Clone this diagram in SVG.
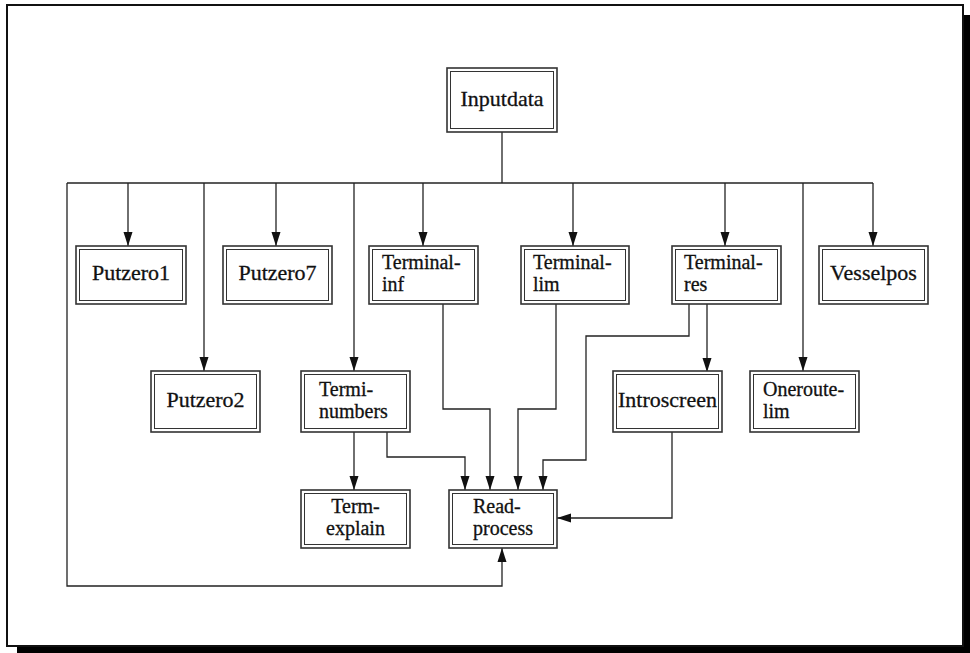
<svg xmlns="http://www.w3.org/2000/svg" width="970" height="653" viewBox="0 0 970 653">
  <defs>
    <marker id="arrow" viewBox="0 0 14 16" refX="14" refY="8" markerWidth="14" markerHeight="16" markerUnits="userSpaceOnUse" orient="auto">
      <path d="M0,3.5 L14,8 L0,12.5 Z" fill="#111"/>
    </marker>
    <style>
      .frame { fill: #fff; stroke: #111; stroke-width: 2; }
      .shadow { fill: #000; }
      .outer { fill: #fff; stroke: #333; stroke-width: 1.6; }
      .inner { fill: none; stroke: #333; stroke-width: 1; }
      .label { font-family: "Liberation Serif", "Times New Roman", serif; font-size: 22px; fill: #111; stroke: #111; stroke-width: 0.3; }
      .two { font-size: 20px; }
      .mid { text-anchor: middle; }
      .wire { fill: none; stroke: #222; stroke-width: 1.3; }
      .arr { marker-end: url(#arrow); }
    </style>
  </defs>

  <!-- page with drop shadow -->
  <rect x="0" y="0" width="970" height="653" fill="#fff"/>
  <rect class="shadow" x="17" y="15" width="953" height="638"/>
  <rect class="frame" x="7" y="5" width="956" height="641"/>

  <!-- connectors -->
  <g id="connectors">
    <path class="wire" d="M502,132 V183"/>
    <path class="wire" d="M67,183 H873"/>
    <path class="wire arr" d="M128,183 V246"/>
    <path class="wire arr" d="M204,183 V371"/>
    <path class="wire arr" d="M276,183 V246"/>
    <path class="wire arr" d="M354,183 V371"/>
    <path class="wire arr" d="M423,183 V246"/>
    <path class="wire arr" d="M573,183 V246"/>
    <path class="wire arr" d="M725,183 V246"/>
    <path class="wire arr" d="M803,183 V371"/>
    <path class="wire arr" d="M873,183 V246"/>
    <path class="wire arr" d="M67,183 V586 H502 V548"/>
    <path class="wire arr" d="M354,432 V490"/>
    <path class="wire arr" d="M387,432 V457 H465 V490"/>
    <path class="wire arr" d="M443,304 V409 H490 V490"/>
    <path class="wire arr" d="M556,304 V409 H518 V490"/>
    <path class="wire arr" d="M689,304 V336 H586 V460 H543 V490"/>
    <path class="wire arr" d="M707,304 V372"/>
    <path class="wire arr" d="M672,432 V518 H557"/>
  </g>

  <!-- nodes -->
  <g id="inputdata">
    <rect class="outer" x="447" y="68" width="110" height="64"/>
    <rect class="inner" x="450.5" y="71.5" width="103" height="57"/>
    <text class="label mid" x="502" y="106">Inputdata</text>
  </g>

  <g id="putzero1">
    <rect class="outer" x="76" y="246" width="110" height="58"/>
    <rect class="inner" x="79.5" y="249.5" width="103" height="51"/>
    <text class="label mid" x="131" y="280">Putzero1</text>
  </g>

  <g id="putzero7">
    <rect class="outer" x="223" y="246" width="109" height="58"/>
    <rect class="inner" x="226.5" y="249.5" width="102" height="51"/>
    <text class="label mid" x="277.5" y="280">Putzero7</text>
  </g>

  <g id="terminal-inf">
    <rect class="outer" x="369" y="246" width="109" height="58"/>
    <rect class="inner" x="372.5" y="249.5" width="102" height="51"/>
    <text class="label two" x="382" y="269">Terminal-<tspan x="382" dy="22">inf</tspan></text>
  </g>

  <g id="terminal-lim">
    <rect class="outer" x="521" y="246" width="108" height="58"/>
    <rect class="inner" x="524.5" y="249.5" width="101" height="51"/>
    <text class="label two" x="533" y="269">Terminal-<tspan x="533" dy="22">lim</tspan></text>
  </g>

  <g id="terminal-res">
    <rect class="outer" x="672" y="246" width="109" height="58"/>
    <rect class="inner" x="675.5" y="249.5" width="102" height="51"/>
    <text class="label two" x="684" y="269">Terminal-<tspan x="684" dy="22">res</tspan></text>
  </g>

  <g id="vesselpos">
    <rect class="outer" x="819" y="246" width="109" height="58"/>
    <rect class="inner" x="822.5" y="249.5" width="102" height="51"/>
    <text class="label mid" x="873.5" y="280">Vesselpos</text>
  </g>

  <g id="putzero2">
    <rect class="outer" x="151" y="371" width="109" height="61"/>
    <rect class="inner" x="154.5" y="374.5" width="102" height="54"/>
    <text class="label mid" x="205.5" y="407">Putzero2</text>
  </g>

  <g id="termi-numbers">
    <rect class="outer" x="301" y="371" width="109" height="61"/>
    <rect class="inner" x="304.5" y="374.5" width="102" height="54"/>
    <text class="label two" x="319" y="396">Termi-<tspan x="319" dy="22">numbers</tspan></text>
  </g>

  <g id="introscreen">
    <rect class="outer" x="613" y="371" width="109" height="61"/>
    <rect class="inner" x="616.5" y="374.5" width="102" height="54"/>
    <text class="label mid" x="667.5" y="407">Introscreen</text>
  </g>

  <g id="oneroute-lim">
    <rect class="outer" x="750" y="371" width="109" height="61"/>
    <rect class="inner" x="753.5" y="374.5" width="102" height="54"/>
    <text class="label two" x="763" y="396">Oneroute-<tspan x="763" dy="22">lim</tspan></text>
  </g>

  <g id="term-explain">
    <rect class="outer" x="301" y="490" width="109" height="58"/>
    <rect class="inner" x="304.5" y="493.5" width="102" height="51"/>
    <text class="label two mid" x="355.5" y="513">Term-<tspan x="355.5" dy="22">explain</tspan></text>
  </g>

  <g id="read-process">
    <rect class="outer" x="449" y="490" width="108" height="58"/>
    <rect class="inner" x="452.5" y="493.5" width="101" height="51"/>
    <text class="label two" x="473" y="513">Read-<tspan x="473" dy="22">process</tspan></text>
  </g>
</svg>
